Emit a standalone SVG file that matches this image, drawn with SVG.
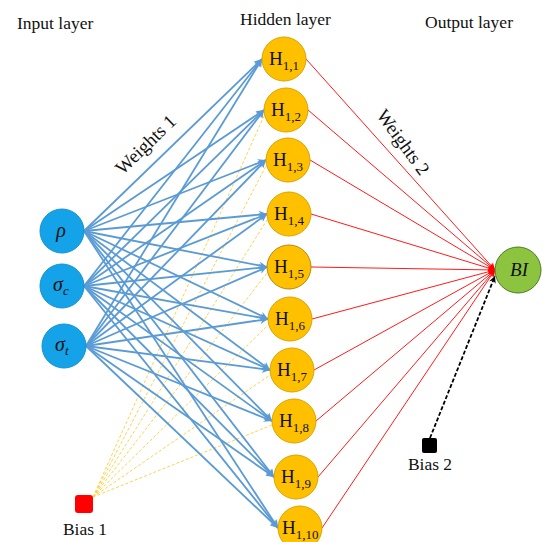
<svg xmlns="http://www.w3.org/2000/svg" width="546" height="542" viewBox="0 0 546 542">
<style>
text{font-family:"Liberation Serif","Times New Roman",serif;fill:#111}
.title{font-size:17.5px}
.w{font-size:19px}
.hid{fill:#FFC000;stroke:#D9A300;stroke-width:1}
.inp{fill:#14A3E8;stroke:#1192cf;stroke-width:1}
.out{fill:#8CC43F;stroke:#4E7A22;stroke-width:1}
.hl{font-size:19px}
.b{stroke:#5B9BD5;stroke-width:1.8;fill:none}
.r{stroke:#FF1A1A;stroke-width:1;fill:none}
.y{stroke:#FFD24D;stroke-width:1;stroke-dasharray:3,2;fill:none}
</style>
<defs>
<marker id="ab" viewBox="0 0 10 10" refX="10" refY="5" markerWidth="9" markerHeight="8" markerUnits="userSpaceOnUse" orient="auto"><path d="M0,0 L10,5 L0,10 L3,5 z" fill="#5B9BD5"/></marker>
<marker id="ar" viewBox="0 0 10 10" refX="10" refY="5" markerWidth="8" markerHeight="7" markerUnits="userSpaceOnUse" orient="auto"><path d="M0,0 L10,5 L0,10 L3,5 z" fill="#FF0000"/></marker>
<marker id="ak" viewBox="0 0 10 10" refX="10" refY="5" markerWidth="8" markerHeight="7" markerUnits="userSpaceOnUse" orient="auto"><path d="M0,0 L10,5 L0,10 L3,5 z" fill="#000"/></marker>
</defs>
<rect width="546" height="542" fill="#fff"/>
<g id="titles">
<text class="title" x="17" y="29">Input layer</text>
<text class="title" x="240" y="25">Hidden layer</text>
<text class="title" x="425" y="28">Output layer</text>
<text class="w" transform="translate(150,149) rotate(-44)" text-anchor="middle">Weights 1</text>
<text class="w" transform="translate(398,146) rotate(54)" text-anchor="middle">Weights 2</text>
</g>
<g id="connectors">
<g id="bias1-lines">
<line class="y" x1="93" y1="497" x2="264" y2="116"/>
<line class="y" x1="93" y1="497" x2="266" y2="166"/>
<line class="y" x1="93" y1="497" x2="267" y2="220"/>
<line class="y" x1="93" y1="497" x2="267" y2="273"/>
<line class="y" x1="93" y1="497" x2="268" y2="325"/>
<line class="y" x1="93" y1="497" x2="270" y2="375"/>
<line class="y" x1="93" y1="497" x2="272" y2="425"/>
</g>
<g id="weights1">
<line class="b" marker-end="url(#ab)" x1="84" y1="231" x2="262" y2="59"/>
<line class="b" marker-end="url(#ab)" x1="84" y1="231" x2="264" y2="110"/>
<line class="b" marker-end="url(#ab)" x1="84" y1="231" x2="266" y2="160"/>
<line class="b" marker-end="url(#ab)" x1="84" y1="231" x2="267" y2="214"/>
<line class="b" marker-end="url(#ab)" x1="84" y1="231" x2="267" y2="267"/>
<line class="b" marker-end="url(#ab)" x1="84" y1="231" x2="268" y2="319"/>
<line class="b" marker-end="url(#ab)" x1="84" y1="231" x2="270" y2="370"/>
<line class="b" marker-end="url(#ab)" x1="84" y1="231" x2="272" y2="421"/>
<line class="b" marker-end="url(#ab)" x1="84" y1="231" x2="274" y2="477"/>
<line class="b" marker-end="url(#ab)" x1="84" y1="231" x2="278" y2="528"/>
<line class="b" marker-end="url(#ab)" x1="84" y1="286" x2="262" y2="59"/>
<line class="b" marker-end="url(#ab)" x1="84" y1="286" x2="264" y2="110"/>
<line class="b" marker-end="url(#ab)" x1="84" y1="286" x2="266" y2="160"/>
<line class="b" marker-end="url(#ab)" x1="84" y1="286" x2="267" y2="214"/>
<line class="b" marker-end="url(#ab)" x1="84" y1="286" x2="267" y2="267"/>
<line class="b" marker-end="url(#ab)" x1="84" y1="286" x2="268" y2="319"/>
<line class="b" marker-end="url(#ab)" x1="84" y1="286" x2="270" y2="370"/>
<line class="b" marker-end="url(#ab)" x1="84" y1="286" x2="272" y2="421"/>
<line class="b" marker-end="url(#ab)" x1="84" y1="286" x2="274" y2="477"/>
<line class="b" marker-end="url(#ab)" x1="84" y1="286" x2="278" y2="528"/>
<line class="b" marker-end="url(#ab)" x1="86" y1="346" x2="262" y2="59"/>
<line class="b" marker-end="url(#ab)" x1="86" y1="346" x2="264" y2="110"/>
<line class="b" marker-end="url(#ab)" x1="86" y1="346" x2="266" y2="160"/>
<line class="b" marker-end="url(#ab)" x1="86" y1="346" x2="267" y2="214"/>
<line class="b" marker-end="url(#ab)" x1="86" y1="346" x2="267" y2="267"/>
<line class="b" marker-end="url(#ab)" x1="86" y1="346" x2="268" y2="319"/>
<line class="b" marker-end="url(#ab)" x1="86" y1="346" x2="270" y2="370"/>
<line class="b" marker-end="url(#ab)" x1="86" y1="346" x2="272" y2="421"/>
<line class="b" marker-end="url(#ab)" x1="86" y1="346" x2="274" y2="477"/>
<line class="b" marker-end="url(#ab)" x1="86" y1="346" x2="278" y2="528"/>
</g>
<g id="weights2">
<line class="r" marker-end="url(#ar)" x1="306" y1="59" x2="495" y2="270"/>
<line class="r" marker-end="url(#ar)" x1="308" y1="110" x2="495" y2="270"/>
<line class="r" marker-end="url(#ar)" x1="310" y1="160" x2="495" y2="270"/>
<line class="r" marker-end="url(#ar)" x1="311" y1="214" x2="495" y2="270"/>
<line class="r" marker-end="url(#ar)" x1="311" y1="267" x2="495" y2="270"/>
<line class="r" marker-end="url(#ar)" x1="312" y1="319" x2="495" y2="270"/>
<line class="r" marker-end="url(#ar)" x1="314" y1="370" x2="495" y2="270"/>
<line class="r" marker-end="url(#ar)" x1="316" y1="421" x2="495" y2="270"/>
<line class="r" marker-end="url(#ar)" x1="318" y1="477" x2="495" y2="270"/>
<line class="r" marker-end="url(#ar)" x1="322" y1="528" x2="495" y2="270"/>
</g>
<line id="bias2-line" x1="430" y1="438" x2="495" y2="276" stroke="#000" stroke-width="1.8" stroke-dasharray="4,2" marker-end="url(#ak)"/>
</g>
<g id="input-rho"><circle class="inp" cx="62" cy="231" r="22"/><text x="61" y="237" font-size="20" font-style="italic" text-anchor="middle">ρ</text></g>
<g id="input-sigma-c"><circle class="inp" cx="62" cy="286" r="22"/><text x="53" y="291" font-size="20" font-style="italic">σ<tspan font-size="13" dy="4">c</tspan></text></g>
<g id="input-sigma-t"><circle class="inp" cx="64" cy="346" r="22"/><text x="55" y="351" font-size="20" font-style="italic">σ<tspan font-size="13" dy="4">t</tspan></text></g>
<g id="h1"><circle class="hid" cx="284" cy="59" r="22"/><text class="hl" x="269" y="65">H<tspan font-size="13" dy="5">1,1</tspan></text></g>
<g id="h2"><circle class="hid" cx="286" cy="110" r="22"/><text class="hl" x="271" y="116">H<tspan font-size="13" dy="5">1,2</tspan></text></g>
<g id="h3"><circle class="hid" cx="288" cy="160" r="22"/><text class="hl" x="273" y="166">H<tspan font-size="13" dy="5">1,3</tspan></text></g>
<g id="h4"><circle class="hid" cx="289" cy="214" r="22"/><text class="hl" x="274" y="220">H<tspan font-size="13" dy="5">1,4</tspan></text></g>
<g id="h5"><circle class="hid" cx="289" cy="267" r="22" style="stroke:#B8860B"/><text class="hl" x="274" y="273">H<tspan font-size="13" dy="5">1,5</tspan></text></g>
<g id="h6"><circle class="hid" cx="290" cy="319" r="22"/><text class="hl" x="275" y="325">H<tspan font-size="13" dy="5">1,6</tspan></text></g>
<g id="h7"><circle class="hid" cx="292" cy="370" r="22"/><text class="hl" x="277" y="376">H<tspan font-size="13" dy="5">1,7</tspan></text></g>
<g id="h8"><circle class="hid" cx="294" cy="421" r="22"/><text class="hl" x="279" y="427">H<tspan font-size="13" dy="5">1,8</tspan></text></g>
<g id="h9"><circle class="hid" cx="296" cy="477" r="22"/><text class="hl" x="281" y="483">H<tspan font-size="13" dy="5">1,9</tspan></text></g>
<g id="h10"><circle class="hid" cx="300" cy="528" r="22"/><text class="hl" x="282" y="534">H<tspan font-size="13" dy="5">1,10</tspan></text></g>
<g id="output-bi"><circle class="out" cx="518" cy="270" r="23"/><text x="519" y="276" font-size="19" font-style="italic" text-anchor="middle">BI</text></g>
<g id="bias1"><rect x="75" y="495" width="18" height="18" rx="3" fill="#FF0000"/><text class="title" x="85" y="535" text-anchor="middle">Bias 1</text></g>
<g id="bias2"><rect x="422" y="438" width="15" height="15" rx="2" fill="#000"/><text class="title" x="430" y="470" text-anchor="middle">Bias 2</text></g>
</svg>
